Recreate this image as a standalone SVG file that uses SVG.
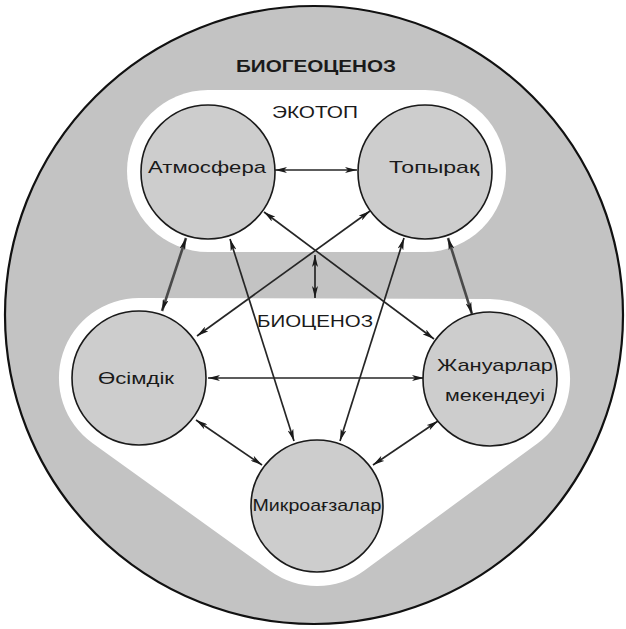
<svg xmlns="http://www.w3.org/2000/svg" width="626" height="629" viewBox="0 0 626 629">
  <style>
    .node { fill: #cdcdcd; stroke: #1a1a1a; stroke-width: 1.6; }
    .lbl { font-family: "Liberation Sans", Arial, sans-serif; font-size: 17px; fill: #1a1a1a; text-anchor: middle; }
    .big { font-weight: bold; }
    .conn { stroke: #262626; stroke-width: 1.7; fill: none; marker-start: url(#ah); marker-end: url(#ah); }
    .thick { stroke: #4a4a4a; stroke-width: 2.6; }
  </style>
  <defs>
    <marker id="ah" viewBox="0 0 12 6" refX="12" refY="3" markerWidth="12" markerHeight="6" markerUnits="userSpaceOnUse" orient="auto-start-reverse">
      <path d="M0,0 L12,3 L0,6 L3,3 z" fill="#1a1a1a"/>
    </marker>
  </defs>
  <rect x="0" y="0" width="626" height="629" fill="#ffffff"/>

  <g id="biogeocenosis">
    <circle cx="314" cy="315" r="309" fill="#c3c3c3" stroke="#111" stroke-width="2.2"/>
    <text class="lbl big" x="316" y="72" textLength="160" lengthAdjust="spacingAndGlyphs">БИОГЕОЦЕНОЗ</text>
  </g>

  <g id="ecotop">
    <rect x="127" y="90" width="379" height="162" rx="81" ry="81" fill="#ffffff"/>
    <text class="lbl" x="315" y="118" textLength="86" lengthAdjust="spacingAndGlyphs">ЭКОТОП</text>
  </g>

  <g id="biocenosis">
    <path d="M139 298 L490 299 A80 80 0 0 1 537.4 443.5 L364.4 570.5 A80 80 0 0 1 270.3 571 L92.3 443 A80 80 0 0 1 139 298 Z" fill="#ffffff"/>
    <text class="lbl" x="315" y="327" textLength="116" lengthAdjust="spacingAndGlyphs">БИОЦЕНОЗ</text>
  </g>

  <g id="connectors">
    <line class="conn" x1="275" y1="170" x2="357" y2="170"/>
    <line class="conn" x1="264" y1="212" x2="434" y2="339"/>
    <line class="conn" x1="370" y1="211" x2="197" y2="336"/>
    <line class="conn thick" x1="186" y1="238" x2="162" y2="311"/>
    <line class="conn" x1="230" y1="239" x2="294" y2="441"/>
    <line class="conn" x1="404" y1="238" x2="340" y2="441"/>
    <line class="conn thick" x1="448" y1="238" x2="472" y2="314"/>
    <line class="conn" x1="315" y1="255" x2="315" y2="298"/>
    <line class="conn" x1="208" y1="378" x2="424" y2="378"/>
    <line class="conn" x1="196" y1="420" x2="262" y2="465"/>
    <line class="conn" x1="438" y1="421" x2="373" y2="465"/>
  </g>

  <g id="atmosfera">
    <circle class="node" cx="208" cy="172" r="67"/>
    <text class="lbl" x="207" y="173" textLength="118" lengthAdjust="spacingAndGlyphs">Атмосфера</text>
  </g>
  <g id="topyraq">
    <circle class="node" cx="425" cy="172" r="67"/>
    <text class="lbl" x="434" y="173" textLength="90" lengthAdjust="spacingAndGlyphs">Топырақ</text>
  </g>
  <g id="osimdik">
    <circle class="node" cx="139" cy="378" r="67"/>
    <text class="lbl" x="136" y="384" textLength="76" lengthAdjust="spacingAndGlyphs">Өсімдік</text>
  </g>
  <g id="januarlar">
    <circle class="node" cx="490" cy="379" r="67"/>
    <text class="lbl" x="495" y="371" textLength="116" lengthAdjust="spacingAndGlyphs">Жануарлар</text>
    <text class="lbl" x="495" y="401" textLength="100" lengthAdjust="spacingAndGlyphs">мекендеуі</text>
  </g>
  <g id="mikroagzalar">
    <circle class="node" cx="317" cy="506" r="66"/>
    <text class="lbl" x="317" y="511" textLength="129" lengthAdjust="spacingAndGlyphs">Микроағзалар</text>
  </g>
</svg>
